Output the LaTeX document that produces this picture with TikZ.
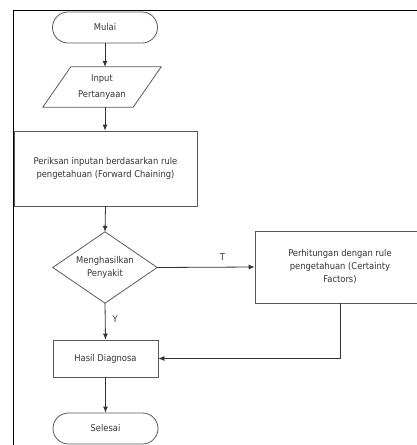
\documentclass[tikz,border=0pt]{standalone}
\usepackage{fontspec}
\setmainfont{DejaVu Sans Condensed}
\usetikzlibrary{arrows.meta,calc}
\begin{document}
\begin{tikzpicture}[x=1pt,y=-1pt,
  font=\fontsize{9.3}{13}\selectfont,
  txt/.style={text=black!80, align=center, inner sep=0pt},
  shp/.style={draw=black!65, line width=0.8pt},
  boxn/.style={txt, shp, rectangle},
  termn/.style={txt, shp, rectangle, rounded corners=15.5pt, minimum width=105pt, minimum height=31pt},
  plainn/.style={txt, draw=none},
  conn/.style={draw=black!80, line width=0.8pt},
  arr/.style={conn, -{Latex[length=6pt,width=5pt]}},
  lbl/.style={txt, font=\fontsize{9.3}{10}\selectfont}
]
\useasboundingbox (0,0) rectangle (417,445);
\clip (0,0) rectangle (417,445);
% frame
\draw[black, line width=0.9pt] (417,10.5) -- (13,10.5) -- (13,445);
% nodes
\node[termn] (mulai) at (105,27.5) {Mulai};
\node[plainn, minimum width=90pt, minimum height=40pt] (inp) at (102,87) {Input\\[3pt]Pertanyaan};
\draw[shp] ($(inp.north west)+(14,0)$) -- ($(inp.north east)+(14,0)$) -- ($(inp.south east)+(-14,0)$) -- ($(inp.south west)+(-14,0)$) -- cycle;
\node[boxn, minimum width=183pt, minimum height=75pt] (periksa) at (105.5,168.5) {Periksan inputan berdasarkan rule\\pengetahuan (Forward Chaining)};
\node[plainn, minimum width=104pt, minimum height=71pt] (dec) at (105,267.5) {Menghasilkan\\Penyakit};
\draw[shp] (dec.north) -- (dec.east) -- (dec.south) -- (dec.west) -- cycle;
\node[boxn, minimum width=170pt, minimum height=72pt] (perhit) at (340,267) {Perhitungan dengan rule\\pengetahuan (Certainty\\Factors)};
\node[boxn, minimum width=105pt, minimum height=37pt] (hasil) at (105.5,358.5) {Hasil Diagnosa};
\node[termn] (selesai) at (105.5,428.5) {Selesai};
% connectors
\draw[arr] (mulai.south) -- (mulai.south |- inp.north);
\draw[arr] (mulai.south |- inp.south) -- (mulai.south |- periksa.north);
\draw[arr] (periksa.south) -- (dec.north);
\draw[arr] (dec.east) -- node[lbl, above=6pt, pos=0.67] (t) {T} (perhit.west);
\draw[arr] (dec.south) -- node[lbl, right=7pt, pos=0.45] (y) {Y} (hasil.north);
\draw[arr] (perhit.south) |- (hasil.east);
\draw[arr] (hasil.south) -- (selesai.north);
\end{tikzpicture}
\end{document}
